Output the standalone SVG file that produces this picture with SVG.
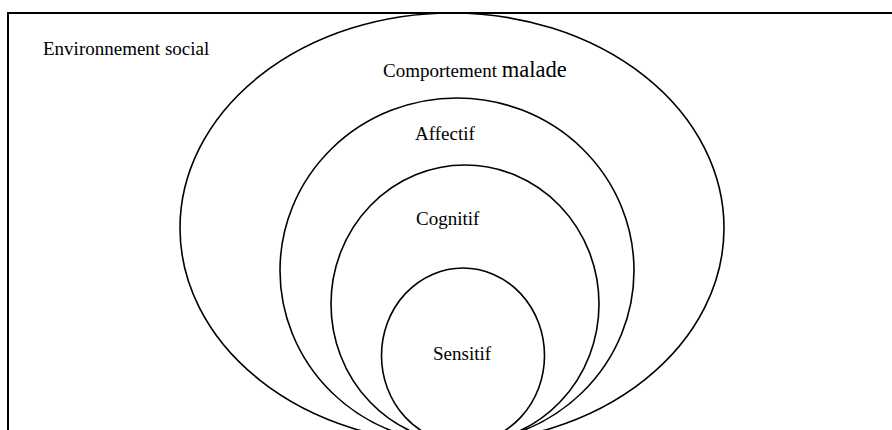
<svg xmlns="http://www.w3.org/2000/svg" width="892" height="430" viewBox="0 0 892 430">
<style>
.ring{fill:none;stroke:#000;stroke-width:1.6}
.frame{fill:none;stroke:#000;stroke-width:2}
.lbl{font-family:"Liberation Serif","Times New Roman","DejaVu Serif",serif;font-size:19px;fill:#000}
</style>
<rect width="892" height="430" fill="#fff"/>
<g id="frame">
<path class="frame" d="M8,431 V13 H892"/>
<text class="lbl" x="43" y="55" font-family="Liberation Serif, DejaVu Serif, serif">Environnement social</text>
</g>
<g id="comportement">
<ellipse class="ring" cx="452" cy="228" rx="272" ry="215"/>
<text class="lbl" x="383" y="77" font-family="Liberation Serif, DejaVu Serif, serif">Comportement <tspan font-size="22.5">malade</tspan></text>
</g>
<g id="affectif">
<ellipse class="ring" cx="457" cy="270.5" rx="177" ry="172.5"/>
<text class="lbl" x="415" y="140" font-family="Liberation Serif, DejaVu Serif, serif">Affectif</text>
</g>
<g id="cognitif">
<ellipse class="ring" cx="465" cy="304" rx="134" ry="139"/>
<text class="lbl" x="416" y="225" font-family="Liberation Serif, DejaVu Serif, serif">Cognitif</text>
</g>
<g id="sensitif">
<ellipse class="ring" cx="463" cy="355.5" rx="81.5" ry="87.5"/>
<text class="lbl" x="433" y="360" font-family="Liberation Serif, DejaVu Serif, serif">Sensitif</text>
</g>
</svg>
